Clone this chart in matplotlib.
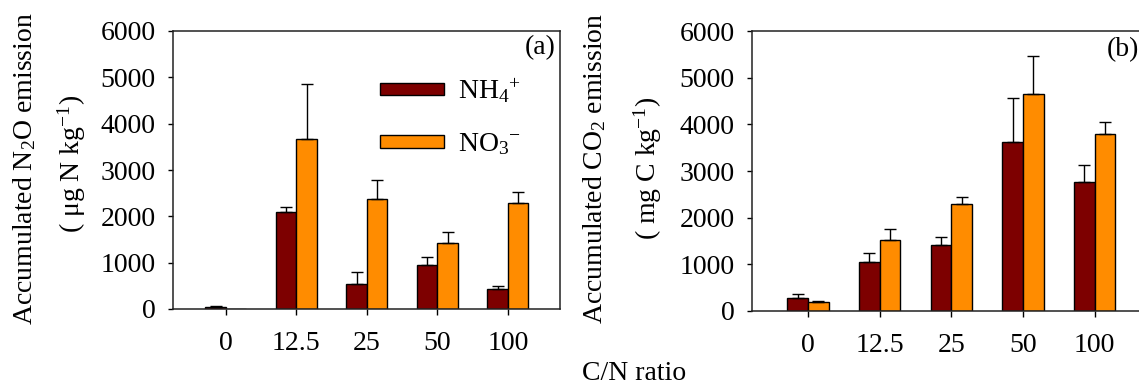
import matplotlib
matplotlib.use("Agg")
import matplotlib.pyplot as plt
import numpy as np

plt.rcParams['font.family'] = ['Liberation Serif', 'DejaVu Serif']
plt.rcParams['mathtext.fontset'] = 'custom'
plt.rcParams['mathtext.rm'] = 'Liberation Serif'
plt.rcParams['mathtext.it'] = 'Liberation Serif:italic'
plt.rcParams['mathtext.bf'] = 'Liberation Serif:bold'

categories = ['0', '12.5', '25', '50', '100']
series_labels = ['NH$_4$$^{+}$', 'NO$_3$$^{-}$']

n2o_nh4 = [40, 2090, 540, 945, 425]
n2o_nh4_err = [25, 110, 260, 175, 65]
n2o_no3 = [0, 3660, 2370, 1420, 2290]
n2o_no3_err = [0, 1205, 410, 240, 240]

co2_nh4 = [270, 1045, 1415, 3630, 2775]
co2_nh4_err = [95, 200, 165, 930, 345]
co2_no3 = [195, 1525, 2285, 4645, 3795]
co2_no3_err = [30, 230, 155, 825, 260]

c_nh4 = '#7d0000'
c_no3 = '#ff8c00'

W, H = 1139, 388
fig = plt.figure(figsize=(W / 100, H / 100), dpi=100)

axA = fig.add_axes([173 / W, 1 - 309 / H, 387 / W, 278 / H])
axB = fig.add_axes([752 / W, 1 - 311 / H, 390 / W, 280 / H])

bw = 0.29
fs = 20


def draw(ax, nh4, nh4e, no3, no3e, xlim):
    x = np.arange(len(categories))
    b1 = ax.bar(x - bw / 2, nh4, bw, color=c_nh4, edgecolor='black', linewidth=1.0,
                label=series_labels[0], zorder=2)
    b2 = ax.bar(x + bw / 2, no3, bw, color=c_no3, edgecolor='black', linewidth=1.0,
                label=series_labels[1], zorder=2)
    for xs, v, e in [(x - bw / 2, nh4, nh4e), (x + bw / 2, no3, no3e)]:
        v = np.asarray(v, float)
        e = np.asarray(e, float)
        m = v > 0
        ax.errorbar(xs[m], v[m], yerr=[np.zeros(m.sum()), e[m]], fmt='none',
                    ecolor='black', elinewidth=1.0, capsize=4, capthick=1.0, zorder=3)
    ax.set_xlim(*xlim)
    ax.set_ylim(0, 6000)
    ax.set_yticks(range(0, 6001, 1000))
    ax.set_xticks(x)
    ax.set_xticklabels(categories)
    ax.tick_params(axis='y', direction='out', length=3.5, width=1, labelsize=fs, pad=9)
    ax.tick_params(axis='x', direction='out', length=4, width=1, labelsize=fs, pad=12)
    for s in ax.spines.values():
        s.set_linewidth(1.1)
        s.set_color('#222222')
    return b1, b2


b1, b2 = draw(axA, n2o_nh4, n2o_nh4_err, n2o_no3, n2o_no3_err, (-0.75, 4.74))
draw(axB, co2_nh4, co2_nh4_err, co2_no3, co2_no3_err, (-0.78, 4.66))
axB.spines['right'].set_visible(False)

axA.text(0.948, 0.942, '(a)', transform=axA.transAxes, ha='center', va='center', fontsize=fs)
axB.text(0.951, 0.932, '(b)', transform=axB.transAxes, ha='center', va='center', fontsize=fs)

leg = axA.legend(handles=[b1, b2], loc='upper left', bbox_to_anchor=(0.535, 0.835),
                 frameon=False, fontsize=fs, handlelength=2.3, handleheight=0.33,
                 handletextpad=0.5, labelspacing=0.95, borderpad=0, borderaxespad=0)

fig.text(25 / W, 1 - 169 / H, 'Accumulated N$_2$O emission', rotation=90,
         ha='center', va='center', fontsize=fs)
fig.text(72 / W, 1 - 164 / H, '( μg N kg$^{-1}$)', rotation=90,
         ha='center', va='center', fontsize=fs)
fig.text(595 / W, 1 - 168 / H, 'Accumulated CO$_2$ emission', rotation=90,
         ha='center', va='center', fontsize=fs)
fig.text(648 / W, 1 - 168 / H, '( mg C kg$^{-1}$)', rotation=90,
         ha='center', va='center', fontsize=fs)
fig.text(634 / W, 1 - 374 / H, 'C/N ratio', ha='center', va='center', fontsize=fs)

fig.savefig('out.png', dpi=100)
